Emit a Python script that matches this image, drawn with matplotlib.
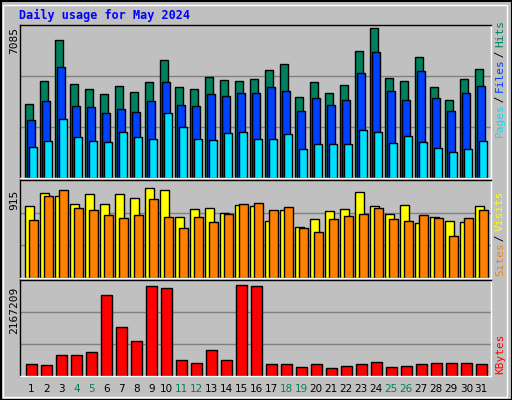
import matplotlib
matplotlib.use("Agg")
import matplotlib.pyplot as plt
from matplotlib.patches import Rectangle

days = list(range(1, 32))
weekend = [4, 5, 11, 12, 18, 19, 25, 26]
hits = [3479,4565,6501,4423,4187,3951,4329,4061,4517,5556,4281,4187,4753,4612,4565,4659,5084,5367,3809,4517,3998,4376,5981,7085,4706,4565,5698,4281,3667,4659,5131]
files = [2723,3620,5226,3384,3337,3054,3242,3101,3620,4517,3431,3384,3951,3856,3998,3998,4281,4092,3148,3762,3431,3667,4942,5934,4092,3667,5037,3762,3148,3998,4329]
pages = [1448,1731,2770,1920,1731,1684,2156,1920,1826,3054,2392,1826,1779,2109,2156,1826,1826,2062,1354,1590,1590,1590,2251,2156,1637,1968,1684,1401,1212,1354,1731]
sites = [675,804,776,702,795,702,795,758,850,832,573,647,656,610,684,675,536,638,480,554,628,647,813,675,601,693,517,573,536,527,675]
visits = [545,776,832,656,638,591,564,591,748,573,471,573,527,601,702,711,638,665,471,434,554,582,601,656,554,536,591,564,397,564,638]
kbytes = [279648,256344,489384,489384,559296,1887624,1141896,815640,2097360,2050752,372864,302952,605904,372864,2120664,2097360,279648,279648,209736,279648,186432,233040,279648,326256,209736,233040,279648,302952,302952,302952,279648]
max_hits = 7085
max_sites = 915
max_kb = 2167209

W, H = 512, 400
fig = plt.figure(figsize=(W/100, H/100), dpi=100, facecolor='#C0C0C0')
mono = 'DejaVu Sans Mono'

fig.add_artist(Rectangle((0.5/W, 0.5/H), (W-1)/W, (H-1)/H, transform=fig.transFigure,
                         fill=False, edgecolor='black', lw=1.5))
fig.add_artist(Rectangle((3/W, 3/H), (W-8)/W, (H-8)/H, transform=fig.transFigure,
                         fill=False, edgecolor='white', lw=1))

def ax_px(x0, y0, x1, y1):
    return fig.add_axes([x0/W, 1-y1/H, (x1-x0)/W, (y1-y0)/H])

def style(ax, top):
    ax.set_facecolor('#C0C0C0')
    ax.set_xlim(0.35, 31.75)
    ax.set_ylim(0, top)
    ax.set_xticks([])
    ax.set_yticks([])
    for s in ax.spines.values():
        s.set_color('black'); s.set_linewidth(1)
    ax.spines['right'].set_color('white')
    ax.spines['bottom'].set_color('white')
    for f in (1/3, 2/3):
        ax.axhline(top*f, color='#808080', lw=1, zorder=0)

kw = dict(align='edge', edgecolor='black', linewidth=1)

ax1 = ax_px(20, 25, 491, 178)
style(ax1, max_hits / 0.983)
ax1.bar([d-0.3 for d in days], hits, 0.53, color='#00805C', **kw)
ax1.bar([d-0.17 for d in days], files, 0.53, color='#0040FF', **kw)
ax1.bar([d-0.03 for d in days], pages, 0.53, color='#00E0FF', **kw)

ax2 = ax_px(20, 180, 491, 278)
style(ax2, max_sites * 1.01)
ax2.bar([d-0.3 for d in days], sites, 0.6, color='#FFFF00', **kw)
ax2.bar([d-0.03 for d in days], visits, 0.55, color='#FF8000', **kw)

ax3 = ax_px(20, 280, 491, 376)
style(ax3, max_kb * 1.03)
ax3.bar([d-0.23 for d in days], kbytes, 0.73, color='#FF0000', **kw)

fig.text(19/W, 1-15/H, 'Daily usage for May 2024', color='#0000FF', family=mono,
         fontweight='bold', fontsize=8.5, va='center', ha='left')
fig.text(14/W, 1-40/H, str(max_hits), rotation=90, family=mono, fontsize=8, va='center', ha='center')
fig.text(14/W, 1-200/H, str(max_sites), rotation=90, family=mono, fontsize=8, va='center', ha='center')
fig.text(14/W, 1-310/H, str(max_kb), rotation=90, family=mono, fontsize=8, va='center', ha='center')

def rlabel(parts, ybottom, step=5.6):
    y = ybottom
    for txt, col in parts:
        fig.text(500/W, 1-y/H, txt, rotation=90, color=col, family=mono, fontsize=8,
                 va='bottom', ha='center')
        y -= step*len(txt)

rlabel([('Pages', '#00E0FF'), (' / ', '#000000'), ('Files', '#0040FF'),
        (' / ', '#000000'), ('Hits', '#00805C')], 137)
rlabel([('Sites', '#FF8000'), (' / ', '#000000'), ('Visits', '#FFFF00')], 276)
rlabel([('KBytes', '#FF0000')], 374)

for d in days:
    xfig = (20 + (d - 0.35 + 0.1) / (31.75 - 0.35) * 471) / W
    fig.text(xfig, 1-389/H, str(d), color='#00805C' if d in weekend else 'black',
             family='DejaVu Sans', fontsize=7.5, ha='center', va='center')

fig.savefig('out.png', dpi=100, facecolor=fig.get_facecolor())
